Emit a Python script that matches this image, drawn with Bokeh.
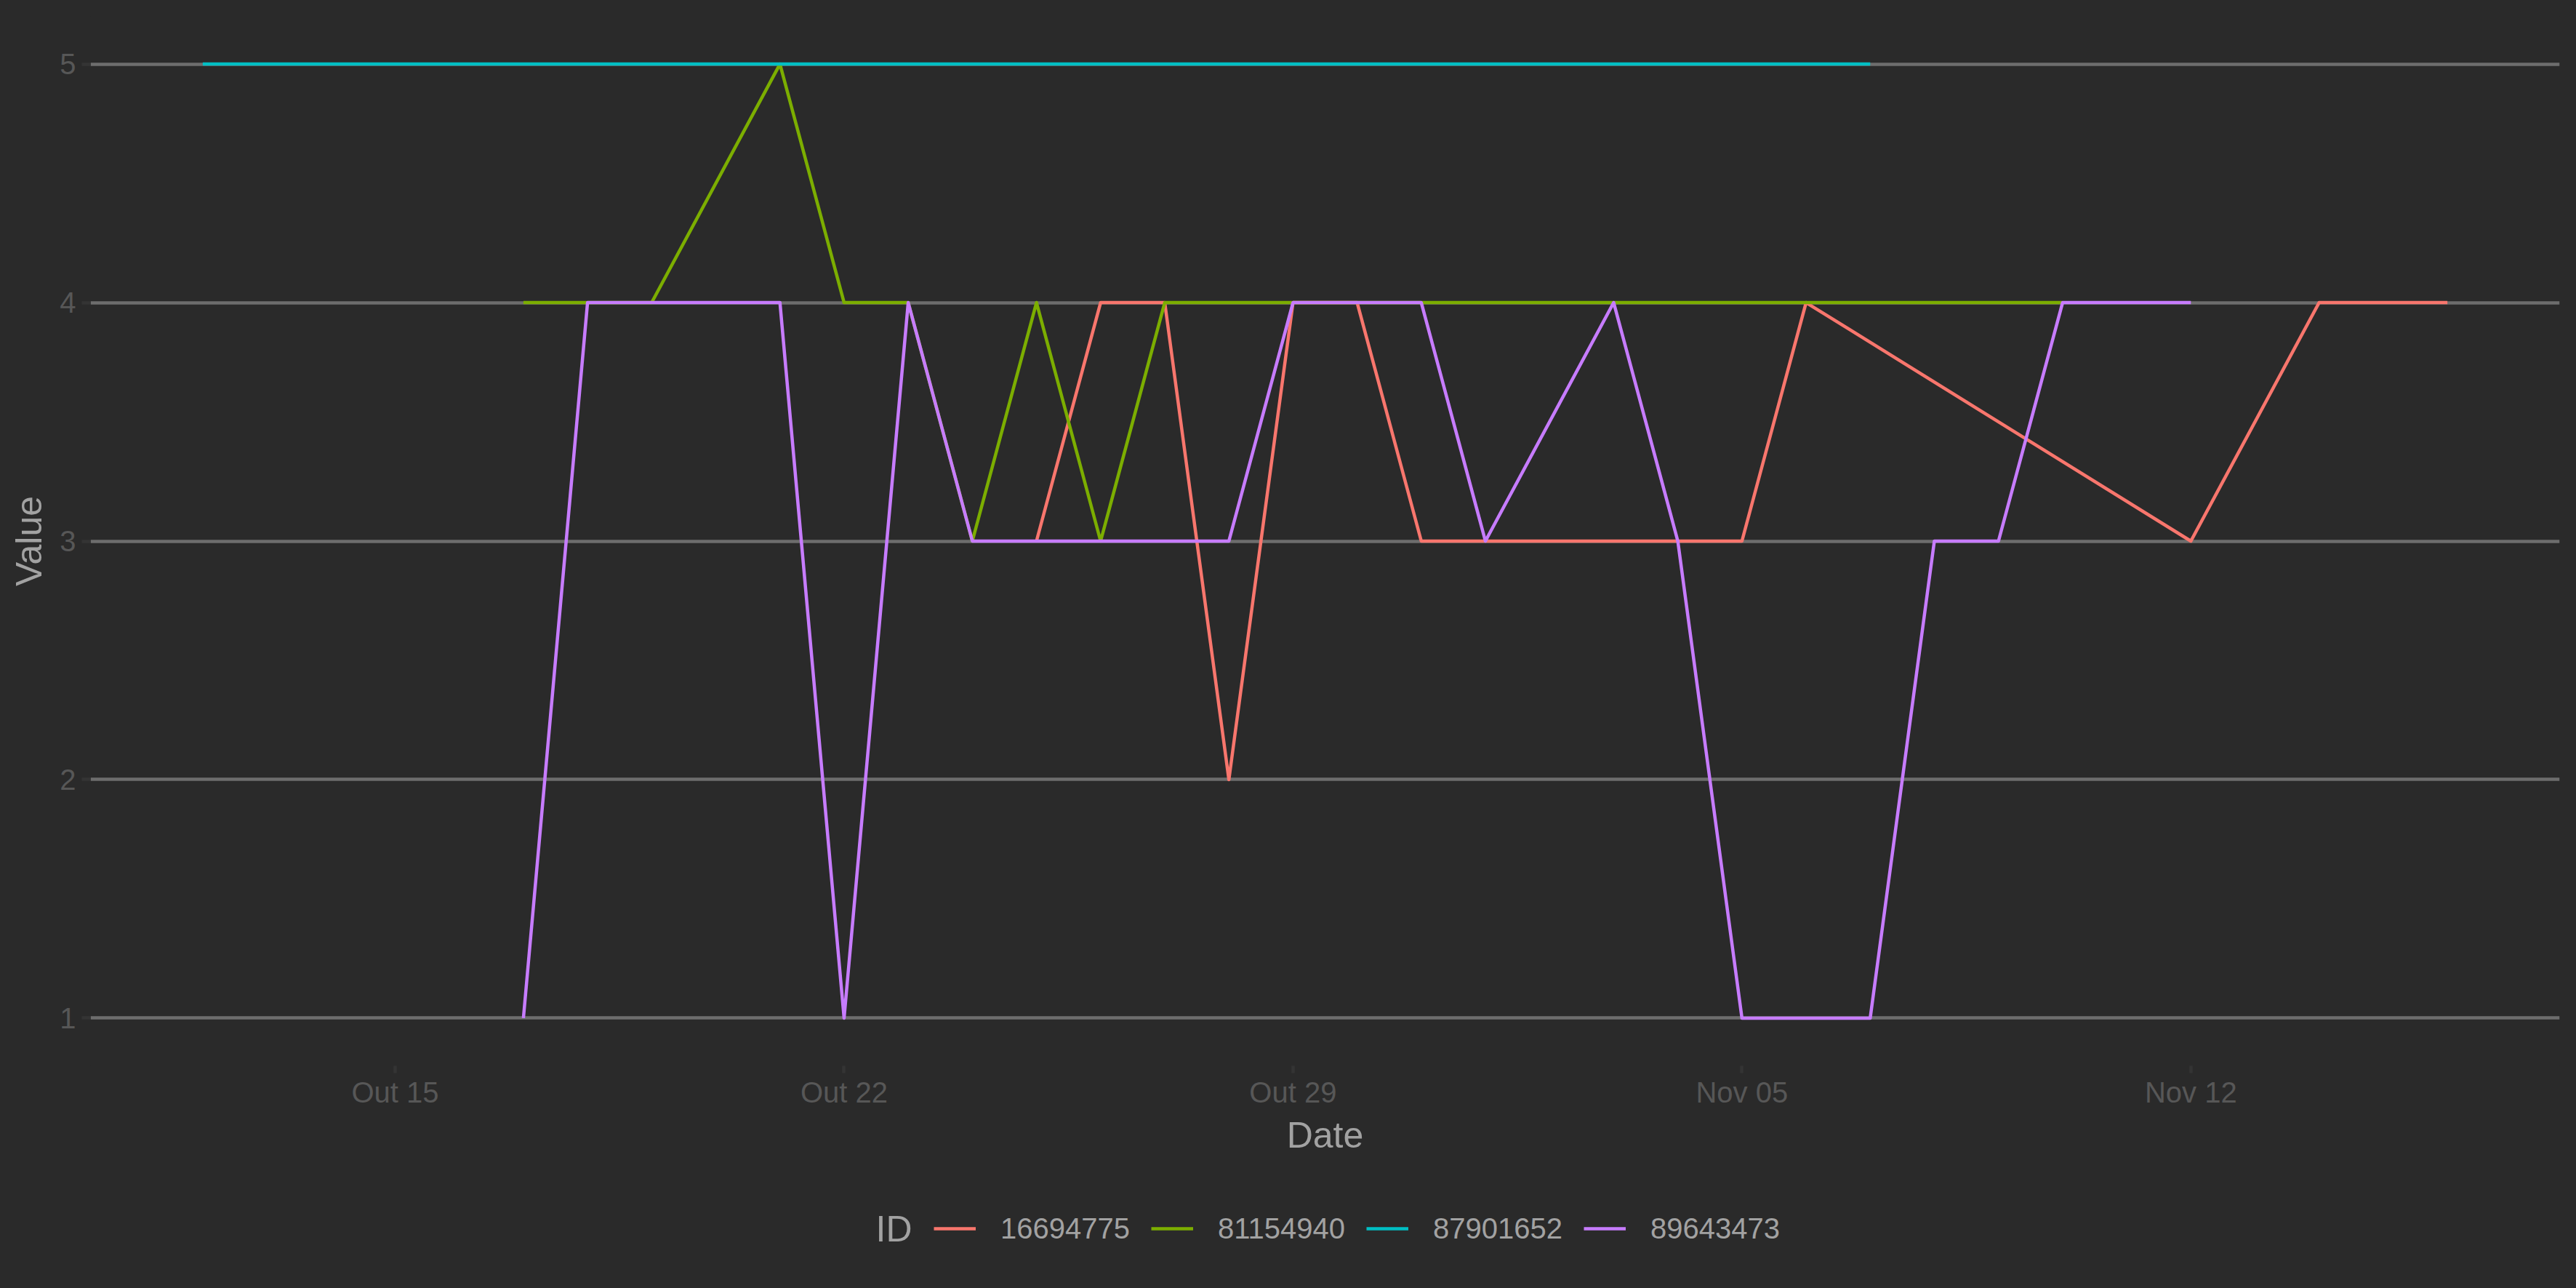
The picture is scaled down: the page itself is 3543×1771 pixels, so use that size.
import pandas as pd
from bokeh.plotting import figure
from bokeh.layouts import column
from bokeh.models import Range1d, FixedTicker, Legend, LegendItem, Label
from bokeh.embed import file_html
from bokeh.resources import INLINE

# ---------------- data ----------------
series_ids = ["16694775", "81154940", "87901652", "89643473"]
series_colors = ["#F8766D", "#7CAE00", "#00BFC4", "#C77CFF"]
legend_title = "ID"

dates_16694775 = ["2023-10-25", "2023-10-26", "2023-10-27", "2023-10-28", "2023-10-29",
                  "2023-10-30", "2023-10-31", "2023-11-01", "2023-11-02", "2023-11-03",
                  "2023-11-04", "2023-11-05", "2023-11-06", "2023-11-12", "2023-11-14",
                  "2023-11-15", "2023-11-16"]
values_16694775 = [3, 4, 4, 2, 4, 4, 3, 3, 3, 3, 3, 3, 4, 3, 4, 4, 4]

dates_81154940 = ["2023-10-17", "2023-10-18", "2023-10-19", "2023-10-21", "2023-10-22",
                  "2023-10-23", "2023-10-24", "2023-10-25", "2023-10-26", "2023-10-27",
                  "2023-10-28", "2023-10-29", "2023-10-30", "2023-10-31", "2023-11-01",
                  "2023-11-02", "2023-11-03", "2023-11-04", "2023-11-05", "2023-11-06",
                  "2023-11-07", "2023-11-08", "2023-11-09", "2023-11-10"]
values_81154940 = [4, 4, 4, 5, 4, 4, 3, 4, 3, 4, 4, 4, 4, 4, 4, 4, 4, 4, 4, 4, 4, 4, 4, 4]

dates_87901652 = ["2023-10-12", "2023-10-13", "2023-10-14", "2023-10-15", "2023-10-16",
                  "2023-10-17", "2023-10-18", "2023-10-19", "2023-10-20", "2023-10-21",
                  "2023-10-22", "2023-10-23", "2023-10-24", "2023-10-25", "2023-10-26",
                  "2023-10-27", "2023-10-28", "2023-10-29", "2023-10-30", "2023-10-31",
                  "2023-11-01", "2023-11-02", "2023-11-03", "2023-11-04", "2023-11-05",
                  "2023-11-06", "2023-11-07"]
values_87901652 = [5] * 27

dates_89643473 = ["2023-10-17", "2023-10-18", "2023-10-19", "2023-10-20", "2023-10-21",
                  "2023-10-22", "2023-10-23", "2023-10-24", "2023-10-25", "2023-10-26",
                  "2023-10-27", "2023-10-28", "2023-10-29", "2023-10-30", "2023-10-31",
                  "2023-11-01", "2023-11-03", "2023-11-04", "2023-11-05", "2023-11-06",
                  "2023-11-07", "2023-11-08", "2023-11-09", "2023-11-10", "2023-11-11",
                  "2023-11-12"]
values_89643473 = [1, 4, 4, 4, 4, 1, 4, 3, 3, 3, 3, 3, 4, 4, 4, 3, 4, 3, 1, 1, 1, 3, 3, 4, 4, 4]

x_tick_dates = ["2023-10-15", "2023-10-22", "2023-10-29", "2023-11-05", "2023-11-12"]
x_tick_labels = ["Out 15", "Out 22", "Out 29", "Nov 05", "Nov 12"]
y_ticks = [1, 2, 3, 4, 5]

# ---------------- styling ----------------
BG = "#2a2a2a"
GRID = "#6d6d6d"
TICKC = "#343434"
TICKLAB = "#575757"
TITLEC = "#a2a2a2"
FONT = "Liberation Sans"
LW = 4.5

all_dates = pd.to_datetime(dates_16694775 + dates_81154940 + dates_87901652 + dates_89643473)
dmin, dmax = all_dates.min(), all_dates.max()
pad = (dmax - dmin) * 0.05
x_range = Range1d(dmin - pad, dmax + pad)
ymin, ymax = min(y_ticks), max(y_ticks)
ypad = (ymax - ymin) * 0.05
y_range = Range1d(ymin - ypad, ymax + ypad)

p = figure(width=3543, height=1610, x_axis_type="datetime",
           x_range=x_range, y_range=y_range,
           output_backend="svg", toolbar_location=None,
           background_fill_color=BG, border_fill_color=None,
           outline_line_color=None,
           min_border_left=124, min_border_right=23, min_border_top=22,
           min_border_bottom=145)

series = [
    (dates_16694775, values_16694775),
    (dates_81154940, values_81154940),
    (dates_87901652, values_87901652),
    (dates_89643473, values_89643473),
]
for (d, v), col in zip(series, series_colors):
    p.line(pd.to_datetime(d), v, line_color=col, line_width=LW, line_join="round")

# grid
p.xgrid.visible = False
p.ygrid.grid_line_color = GRID
p.ygrid.grid_line_width = LW
p.yaxis.ticker = FixedTicker(ticks=y_ticks)

# axes
tick_ms = [pd.Timestamp(t).value // 10**6 for t in x_tick_dates]
p.xaxis.ticker = FixedTicker(ticks=tick_ms)
p.xaxis.major_label_overrides = {t: lab for t, lab in zip(tick_ms, x_tick_labels)}

for ax in (p.xaxis[0], p.yaxis[0]):
    ax.axis_line_color = None
    ax.major_tick_line_color = TICKC
    ax.major_tick_line_width = LW
    ax.major_tick_in = 0
    ax.minor_tick_line_color = None
    ax.major_label_text_color = TICKLAB
    ax.major_label_text_font = FONT
    ax.major_label_text_font_size = "40px"
    ax.axis_label_text_color = TITLEC
    ax.axis_label_text_font = FONT
    ax.axis_label_text_font_size = "50px"
    ax.axis_label_text_font_style = "normal"

p.xaxis.axis_label = "Date"
p.yaxis.axis_label = "Value"
p.xaxis.major_tick_out = 10
p.yaxis.major_tick_out = 12
p.xaxis.major_label_standoff = 4
p.yaxis.major_label_standoff = 8
p.xaxis.axis_label_standoff = 6
p.yaxis.axis_label_standoff = 11

# ---------------- legend strip (its frame is aligned with the main frame) ----------------
p2 = figure(width=3543, height=161, x_range=Range1d(0, 1), y_range=Range1d(0, 1),
            x_axis_location=None, y_axis_location=None,
            output_backend="svg", toolbar_location=None,
            background_fill_color=None, border_fill_color=None,
            outline_line_color=None, min_border=0)
p2.grid.visible = False

items = []
for sid, col in zip(series_ids, series_colors):
    r = p2.line(x=[float("nan")], y=[float("nan")], line_color=col, line_width=LW)
    items.append(LegendItem(label=sid, renderers=[r]))

legend = Legend(items=items, orientation="horizontal", location=(1160, 59),
                label_text_font=FONT, label_text_font_size="40px",
                label_text_color=TITLEC, label_text_baseline="middle",
                glyph_width=58, glyph_height=46, label_standoff=34, spacing=29,
                padding=0, margin=0,
                background_fill_alpha=0, border_line_color=None)
p2.add_layout(legend)

title_lbl = Label(x=1080, y=82, x_units="screen", y_units="screen",
                  text=legend_title, text_font=FONT, text_font_size="50px",
                  text_color=TITLEC, text_baseline="middle", text_align="left")
p2.add_layout(title_lbl)

layout = column(p, p2, spacing=0)

html = file_html(layout, INLINE)
html = html.replace("</head>", "<style>html, body { background-color: #2a2a2a; }</style></head>", 1)
open("out.html", "w").write(html)
